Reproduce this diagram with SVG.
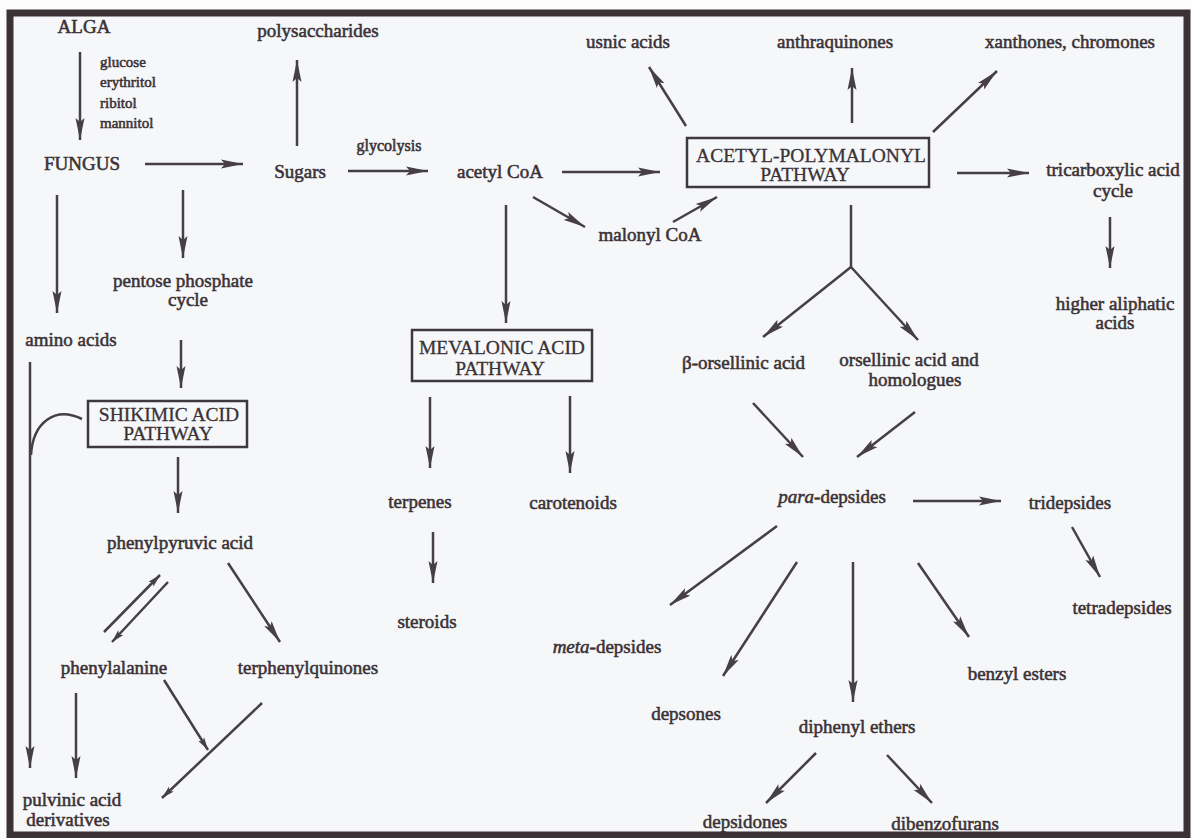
<svg xmlns="http://www.w3.org/2000/svg" width="1192" height="838" viewBox="0 0 1192 838">
<defs>
<style>
.t{font-family:"Liberation Serif","Times New Roman",serif;font-size:19px;fill:#3a3236;stroke:#3a3236;stroke-width:0.55;text-anchor:middle}
.s{font-size:15px}
.g{font-size:16px}
.b{font-family:"Liberation Serif","Times New Roman",serif;font-size:19.5px;fill:#3a3236;stroke:#3a3236;stroke-width:0.3;text-anchor:middle}
.box{fill:none;stroke:#3f383c;stroke-width:2.5}
.c line,.c path{stroke:#463f43;stroke-width:2.5;fill:none}
.c .a{marker-end:url(#ah)}
.c .m{marker-end:url(#sm)}
</style>
<marker id="ah" markerUnits="userSpaceOnUse" markerWidth="24" markerHeight="10" refX="22" refY="5" orient="auto"><path d="M0,0.5 L22,5 L0,9.5 L4,5 z" fill="#463f43"/></marker>
<marker id="sm" markerUnits="userSpaceOnUse" markerWidth="14" markerHeight="8" refX="13" refY="4" orient="auto"><path d="M0,0.5 L13,4 L0,7.5 L3,4 z" fill="#463f43"/></marker>
</defs>
<rect x="0" y="0" width="1192" height="838" fill="#fcfcfd"/>
<rect x="10" y="13" width="1177" height="822" fill="#f6f7f9"/>

<g class="c" id="connectors">
<line class="a" x1="80" y1="52" x2="80" y2="140"/>
<line class="a" x1="145" y1="164" x2="243" y2="164"/>
<line class="a" x1="297" y1="146" x2="297" y2="60"/>
<line class="a" x1="348" y1="171" x2="428" y2="171"/>
<line class="a" x1="562" y1="172" x2="660" y2="172"/>
<line class="a" x1="533" y1="197" x2="585" y2="227"/>
<line class="a" x1="673" y1="222" x2="717" y2="197"/>
<line class="a" x1="686" y1="126" x2="649" y2="67"/>
<line class="a" x1="852" y1="123" x2="852" y2="68"/>
<line class="a" x1="933" y1="132" x2="997" y2="71"/>
<line class="a" x1="957" y1="173" x2="1029" y2="173"/>
<line class="a" x1="1110" y1="217" x2="1110" y2="268"/>
<line x1="851" y1="205" x2="851" y2="267"/>
<line class="a" x1="851" y1="267" x2="763" y2="337"/>
<line class="a" x1="851" y1="267" x2="918" y2="340"/>
<line class="a" x1="753" y1="403" x2="803" y2="457"/>
<line class="a" x1="915" y1="412" x2="857" y2="457"/>
<line class="a" x1="913" y1="501" x2="1001" y2="501"/>
<line class="a" x1="1072" y1="527" x2="1100" y2="577"/>
<line class="a" x1="777" y1="526" x2="670" y2="605"/>
<line class="a" x1="797" y1="562" x2="723" y2="676"/>
<line class="a" x1="853" y1="562" x2="853" y2="702"/>
<line class="a" x1="918" y1="563" x2="969" y2="637"/>
<line class="a" x1="816" y1="753" x2="766" y2="803"/>
<line class="a" x1="887" y1="755" x2="932" y2="803"/>
<line class="a" x1="506" y1="205" x2="506" y2="323"/>
<line class="a" x1="430" y1="397" x2="430" y2="468"/>
<line class="a" x1="570" y1="396" x2="570" y2="473"/>
<line class="a" x1="433" y1="532" x2="433" y2="583"/>
<line class="a" x1="57" y1="195" x2="57" y2="313"/>
<line class="a" x1="183" y1="190" x2="183" y2="258"/>
<line class="a" x1="181" y1="340" x2="181" y2="388"/>
<line class="a" x1="178" y1="457" x2="178" y2="513"/>
<line class="a" x1="30" y1="362" x2="30" y2="768"/>
<path d="M82,419 C55,406 33,422 31,455"/>
<line class="m" x1="104" y1="632" x2="160" y2="575"/>
<line class="m" x1="168" y1="582" x2="112" y2="642"/>
<line class="a" x1="228" y1="563" x2="280" y2="642"/>
<line class="a" x1="76" y1="693" x2="76" y2="778"/>
<line class="m" x1="164" y1="680" x2="208" y2="750"/>
<line class="m" x1="262" y1="703" x2="162" y2="798"/>
</g>

<g id="alga"><text class="t" x="84" y="33">ALGA</text></g>
<g id="sugars-list">
<text class="t s" x="100" y="67" style="text-anchor:start">glucose</text>
<text class="t s" x="100" y="87" style="text-anchor:start">erythritol</text>
<text class="t s" x="100" y="108" style="text-anchor:start">ribitol</text>
<text class="t s" x="100" y="128" style="text-anchor:start">mannitol</text>
</g>
<g id="fungus"><text class="t" x="82" y="170">FUNGUS</text></g>
<g id="sugars"><text class="t" x="300" y="178">Sugars</text></g>
<g id="polysaccharides"><text class="t" x="318" y="37">polysaccharides</text></g>
<g id="glycolysis"><text class="t g" x="389" y="151">glycolysis</text></g>
<g id="acetylcoa"><text class="t" x="500" y="178">acetyl CoA</text></g>
<g id="malonylcoa"><text class="t" x="650" y="241">malonyl CoA</text></g>
<g id="usnic"><text class="t" x="628" y="48">usnic acids</text></g>
<g id="anthraquinones"><text class="t" x="835" y="48">anthraquinones</text></g>
<g id="xanthones"><text class="t" x="1070" y="48">xanthones, chromones</text></g>
<g id="acetylpoly">
<rect class="box" x="687" y="138" width="242" height="49"/>
<text class="b" x="811" y="162">ACETYL-POLYMALONYL</text>
<text class="b" x="805" y="181">PATHWAY</text>
</g>
<g id="tca"><text class="t" x="1113" y="176">tricarboxylic acid</text><text class="t" x="1113" y="197">cycle</text></g>
<g id="aliphatic"><text class="t" x="1115" y="310">higher aliphatic</text><text class="t" x="1115" y="329">acids</text></g>
<g id="amino"><text class="t" x="71" y="346">amino acids</text></g>
<g id="pentose"><text class="t" x="183" y="287">pentose phosphate</text><text class="t" x="188" y="306">cycle</text></g>
<g id="shikimic">
<rect class="box" x="88" y="401" width="159" height="46"/>
<text class="b" x="169" y="421">SHIKIMIC ACID</text>
<text class="b" x="168" y="440">PATHWAY</text>
</g>
<g id="phenylpyruvic"><text class="t" x="180" y="549">phenylpyruvic acid</text></g>
<g id="phenylalanine"><text class="t" x="114" y="674">phenylalanine</text></g>
<g id="terphenyl"><text class="t" x="308" y="674">terphenylquinones</text></g>
<g id="pulvinic"><text class="t" x="72" y="806">pulvinic acid</text><text class="t" x="68" y="826">derivatives</text></g>
<g id="mevalonic">
<rect class="box" x="412" y="330" width="180" height="51"/>
<text class="b" x="502" y="354">MEVALONIC ACID</text>
<text class="b" x="500" y="375">PATHWAY</text>
</g>
<g id="terpenes"><text class="t" x="420" y="508">terpenes</text></g>
<g id="carotenoids"><text class="t" x="573" y="509">carotenoids</text></g>
<g id="steroids"><text class="t" x="427" y="628">steroids</text></g>
<g id="borsellinic"><text class="t" x="682" y="369" style="text-anchor:start">β-orsellinic acid</text></g>
<g id="orsellinic"><text class="t" x="909" y="366">orsellinic acid and</text><text class="t" x="915" y="386">homologues</text></g>
<g id="paradepsides"><text class="t" x="832" y="503"><tspan font-style="italic">para</tspan>-depsides</text></g>
<g id="tridepsides"><text class="t" x="1070" y="509">tridepsides</text></g>
<g id="tetradepsides"><text class="t" x="1122" y="614">tetradepsides</text></g>
<g id="metadepsides"><text class="t" x="607" y="653"><tspan font-style="italic">meta</tspan>-depsides</text></g>
<g id="depsones"><text class="t" x="686" y="720">depsones</text></g>
<g id="diphenyl"><text class="t" x="857" y="733">diphenyl ethers</text></g>
<g id="benzyl"><text class="t" x="1017" y="680">benzyl esters</text></g>
<g id="depsidones"><text class="t" x="745" y="828">depsidones</text></g>
<g id="dibenzofurans"><text class="t" x="945" y="830">dibenzofurans</text></g>

<rect x="10" y="13" width="1177" height="822" fill="none" stroke="#3a3236" stroke-width="7"/>
</svg>
